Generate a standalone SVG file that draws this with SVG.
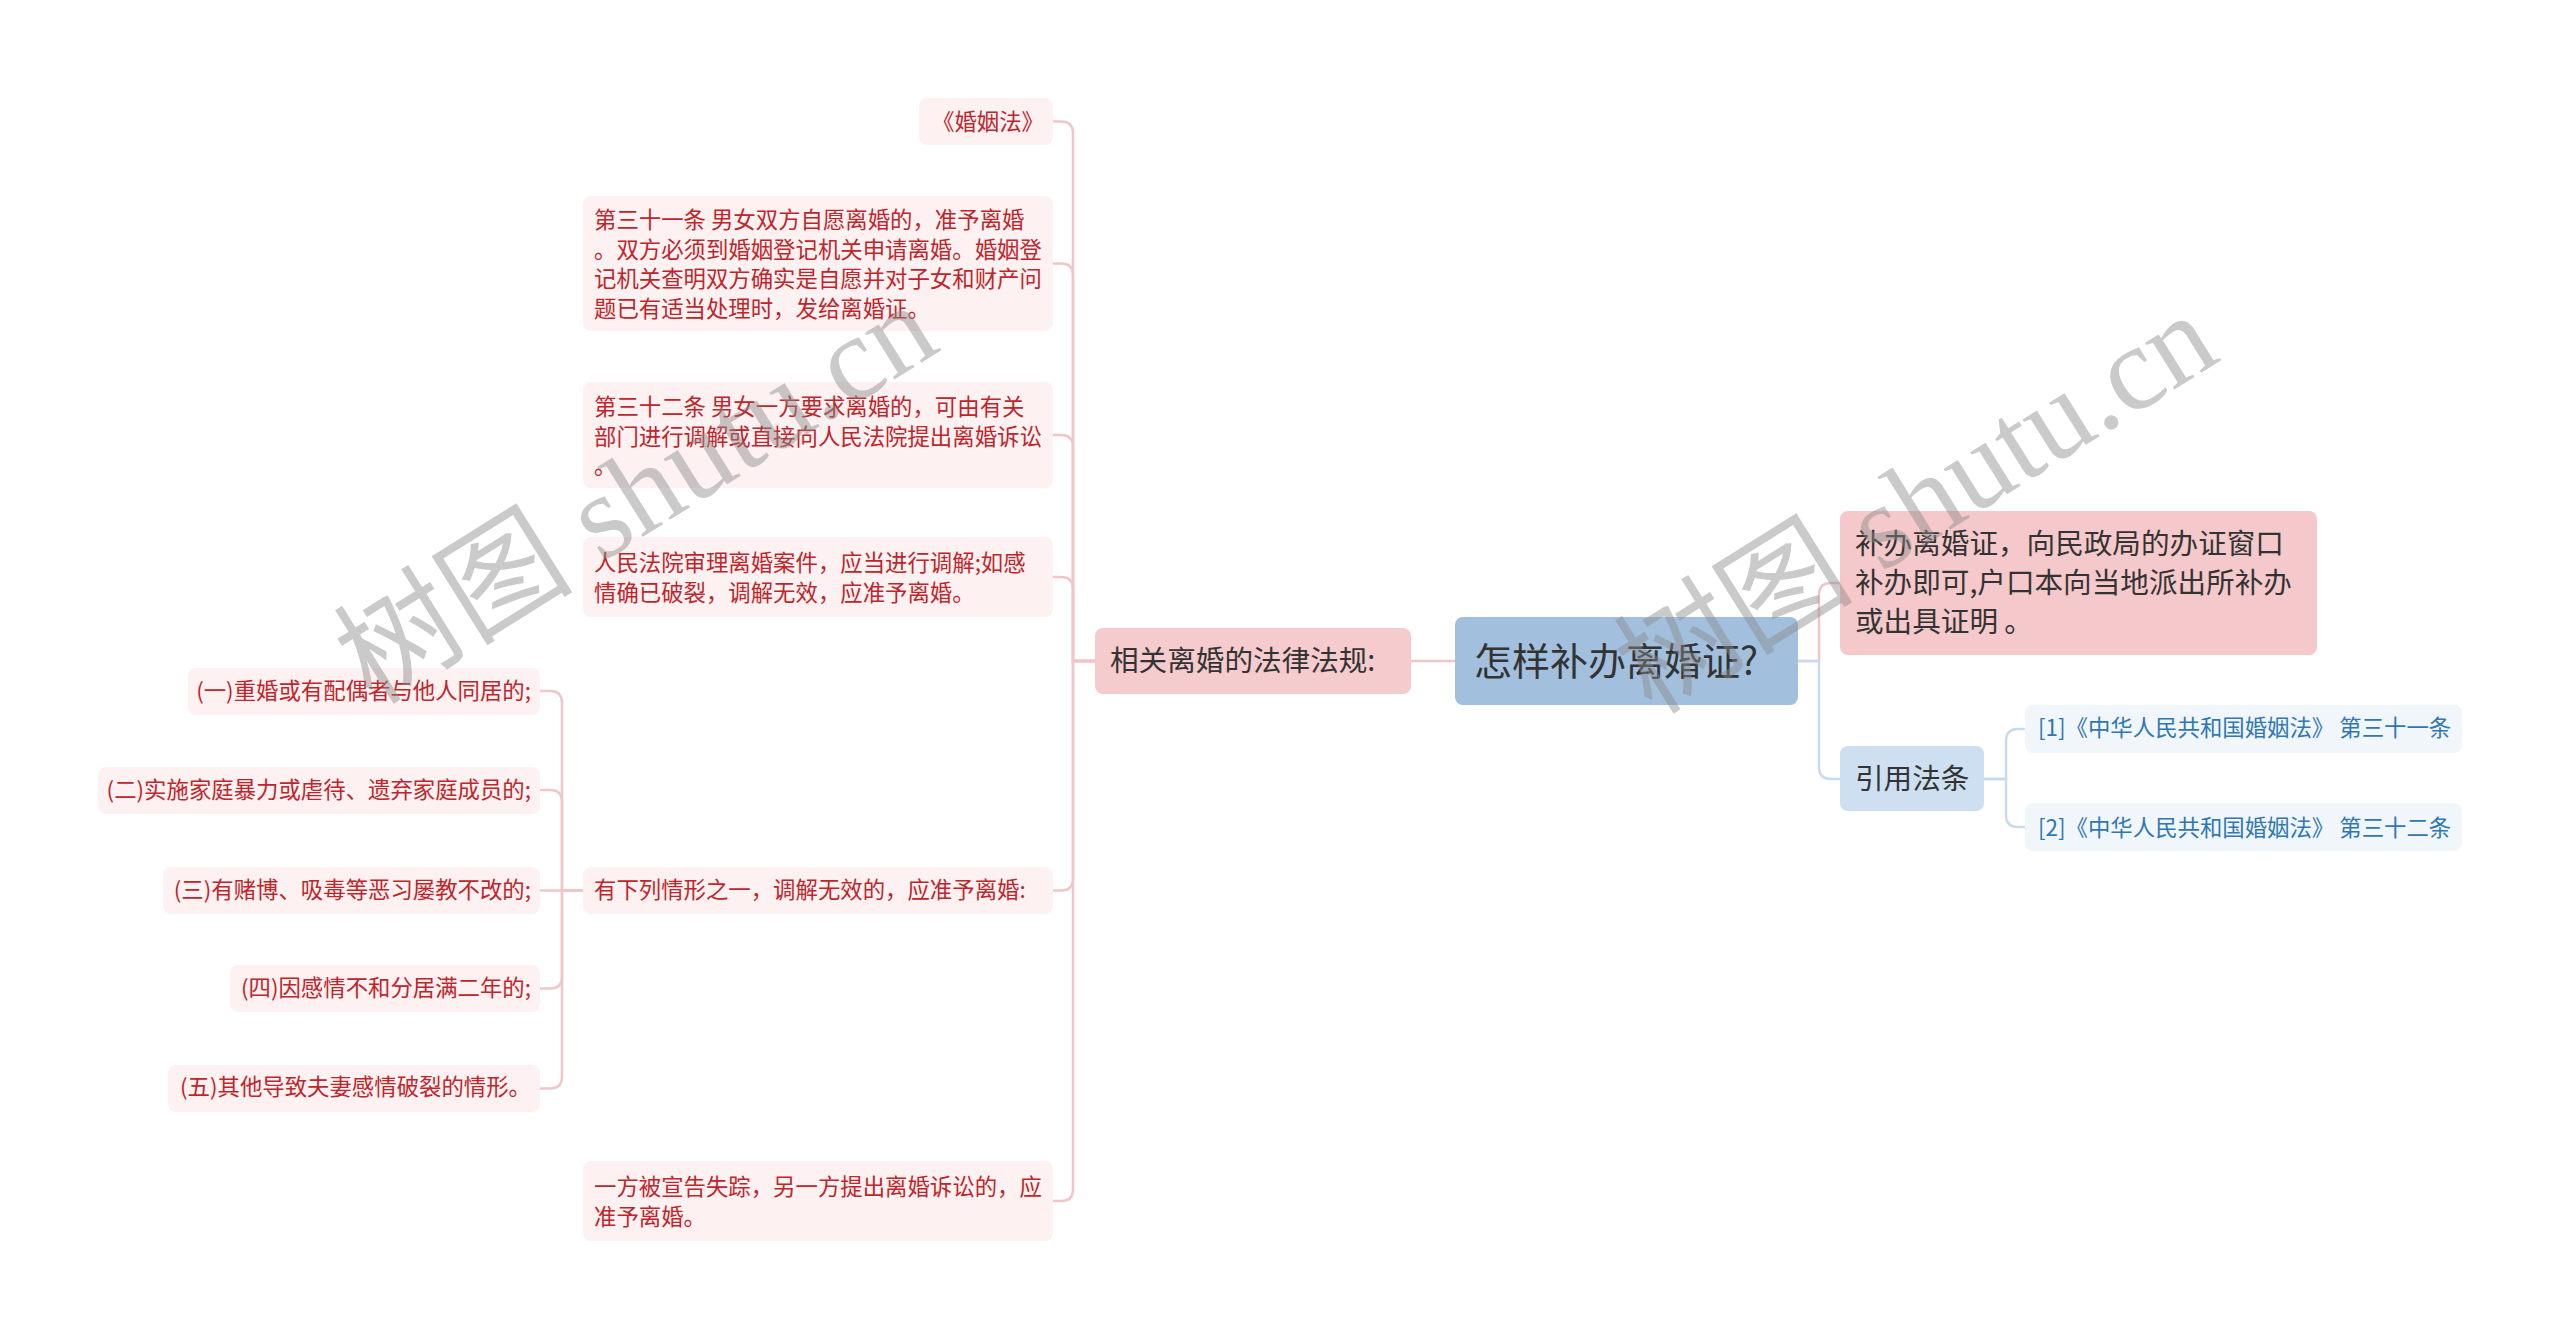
<svg xmlns="http://www.w3.org/2000/svg" width="2560" height="1337" viewBox="0 0 2560 1337">
<style>
text{font-family:"Noto Sans CJK SC","Noto Sans",sans-serif}
.leaf{fill:#fdf1f1}
.lt{font-size:22.4px;fill:#bf252b}
.pk{fill:none;stroke:#f1c6c8;stroke-width:2.5}
.bl{fill:none;stroke:#c8daec;stroke-width:2.5}
.ref{fill:#f1f6fb}
.rt{font-size:22.4px;fill:#2f77b5}
.dk{fill:#333333}
.wm{font-family:"Liberation Serif","Noto Sans CJK SC",serif;font-size:120px;fill:#8a8a8a;fill-opacity:0.45}
</style>
<rect width="2560" height="1337" fill="#ffffff"/>
<g id="connectors">
<path class="pk" d="M1455 661 H1411"/>
<path class="pk" d="M1095 661 H1073 V133.5 Q1073 121.5 1061 121.5 H1053"/>
<path class="pk" d="M1095 661 H1073 V275.5 Q1073 263.5 1061 263.5 H1053"/>
<path class="pk" d="M1095 661 H1073 V447 Q1073 435 1061 435 H1053"/>
<path class="pk" d="M1095 661 H1073 V589 Q1073 577 1061 577 H1053"/>
<path class="pk" d="M1095 661 H1073 V878.5 Q1073 890.5 1061 890.5 H1053"/>
<path class="pk" d="M1095 661 H1073 V1189 Q1073 1201 1061 1201 H1053"/>
<path class="pk" d="M583 890.5 H562 V703 Q562 691 550 691 H540"/>
<path class="pk" d="M583 890.5 H562 V802 Q562 790 550 790 H540"/>
<path class="pk" d="M583 890.5 H540"/>
<path class="pk" d="M583 890.5 H562 V976.5 Q562 988.5 550 988.5 H540"/>
<path class="pk" d="M583 890.5 H562 V1076.5 Q562 1088.5 550 1088.5 H540"/>
<path class="pk" d="M1798 661 H1819 V595 Q1819 583 1831 583 H1840"/>
<path class="bl" d="M1798 661 H1819 V767 Q1819 779 1831 779 H1840"/>
<path class="bl" d="M1984 779 H2006 V741 Q2006 729 2018 729 H2025"/>
<path class="bl" d="M1984 779 H2006 V815 Q2006 827 2018 827 H2025"/>
</g>
<g id="root">
<rect x="1455" y="617" width="343" height="88" rx="8" fill="#a2c0dd"/>
<text x="1474" y="675" font-size="38" class="dk">怎样补办离婚证?</text>
</g>
<g id="laws">
<rect x="1095" y="628" width="316" height="66" rx="8" fill="#f5cbcd"/>
<text x="1110" y="671" font-size="28.6" class="dk">相关离婚的法律法规:</text>
</g>
<g id="leaf1">
<rect class="leaf" x="919" y="98" width="134" height="47" rx="8"/>
<text class="lt" x="932" y="130">《婚姻法》</text>
</g>
<g id="leaf2">
<rect class="leaf" x="583" y="196" width="470" height="135" rx="8"/>
<text class="lt" x="594" y="228"><tspan x="594">第三十一条 男女双方自愿离婚的，准予离婚</tspan><tspan x="594" dy="29.5">。双方必须到婚姻登记机关申请离婚。婚姻登</tspan><tspan x="594" dy="29.5">记机关查明双方确实是自愿并对子女和财产问</tspan><tspan x="594" dy="29.5">题已有适当处理时，发给离婚证。</tspan></text>
</g>
<g id="leaf3">
<rect class="leaf" x="583" y="382" width="470" height="106" rx="8"/>
<text class="lt" x="594" y="415"><tspan x="594">第三十二条 男女一方要求离婚的，可由有关</tspan><tspan x="594" dy="29.5">部门进行调解或直接向人民法院提出离婚诉讼</tspan><tspan x="594" dy="29.5">。</tspan></text>
</g>
<g id="leaf4">
<rect class="leaf" x="583" y="537" width="470" height="80" rx="8"/>
<text class="lt" x="594" y="571"><tspan x="594">人民法院审理离婚案件，应当进行调解;如感</tspan><tspan x="594" dy="29.5">情确已破裂，调解无效，应准予离婚。</tspan></text>
</g>
<g id="leaf5">
<rect class="leaf" x="583" y="867" width="470" height="47" rx="8"/>
<text class="lt" x="594" y="898">有下列情形之一，调解无效的，应准予离婚:</text>
</g>
<g id="leaf6">
<rect class="leaf" x="583" y="1161" width="470" height="80" rx="8"/>
<text class="lt" x="594" y="1195"><tspan x="594">一方被宣告失踪，另一方提出离婚诉讼的，应</tspan><tspan x="594" dy="29.5">准予离婚。</tspan></text>
</g>
<g id="sub1">
<rect class="leaf" x="188" y="668" width="352" height="47" rx="8"/>
<text class="lt" x="531" y="699" text-anchor="end">(一)重婚或有配偶者与他人同居的;</text>
</g>
<g id="sub2">
<rect class="leaf" x="98" y="767" width="442" height="47" rx="8"/>
<text class="lt" x="531" y="798" text-anchor="end">(二)实施家庭暴力或虐待、遗弃家庭成员的;</text>
</g>
<g id="sub3">
<rect class="leaf" x="163" y="867" width="377" height="47" rx="8"/>
<text class="lt" x="531" y="898" text-anchor="end">(三)有赌博、吸毒等恶习屡教不改的;</text>
</g>
<g id="sub4">
<rect class="leaf" x="230" y="965" width="310" height="47" rx="8"/>
<text class="lt" x="531" y="996" text-anchor="end">(四)因感情不和分居满二年的;</text>
</g>
<g id="sub5">
<rect class="leaf" x="168" y="1065" width="372" height="47" rx="8"/>
<text class="lt" x="531" y="1095" text-anchor="end">(五)其他导致夫妻感情破裂的情形。</text>
</g>
<g id="answer">
<rect x="1840" y="511" width="477" height="144" rx="8" fill="#f5c9cb"/>
<text x="1855" y="554" font-size="28.6" class="dk"><tspan x="1855">补办离婚证，向民政局的办证窗口</tspan><tspan x="1855" dy="39">补办即可,户口本向当地派出所补办</tspan><tspan x="1855" dy="39">或出具证明 。</tspan></text>
</g>
<g id="cite">
<rect x="1840" y="746" width="144" height="65" rx="8" fill="#cddff0"/>
<text x="1855" y="789" font-size="28.6" class="dk">引用法条</text>
</g>
<g id="ref1">
<rect class="ref" x="2025" y="705" width="437" height="48" rx="8"/>
<text class="rt" x="2038" y="736">[1]《中华人民共和国婚姻法》 第三十一条</text>
</g>
<g id="ref2">
<rect class="ref" x="2025" y="803" width="437" height="48" rx="8"/>
<text class="rt" x="2038" y="836">[2]《中华人民共和国婚姻法》 第三十二条</text>
</g>
<g id="watermark">
<text class="wm" transform="translate(372 706) rotate(-32)">树图 shutu.cn</text>
<text class="wm" transform="translate(1652 716) rotate(-32)">树图 shutu.cn</text>
</g>
</svg>
